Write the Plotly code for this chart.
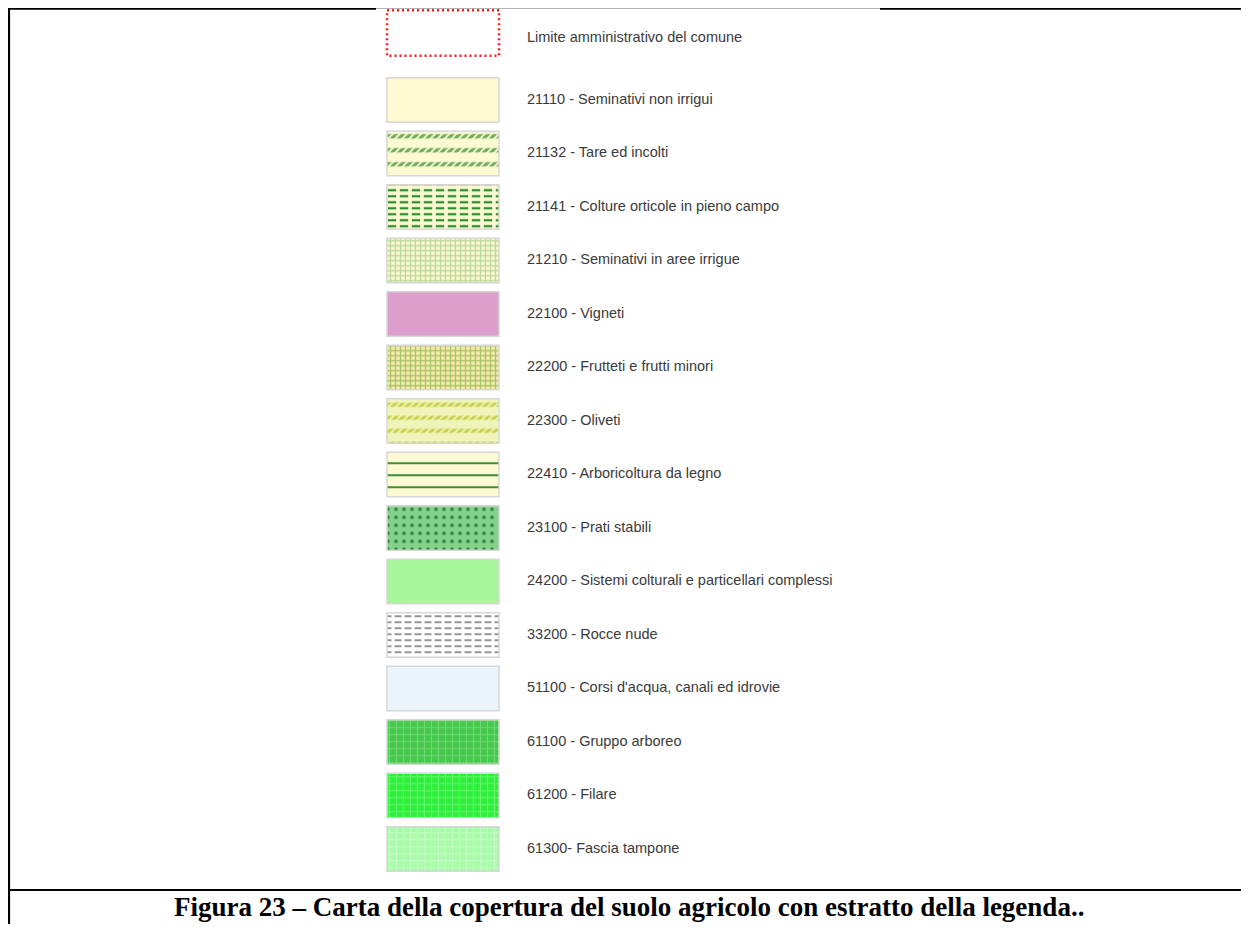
import plotly.graph_objects as go

# ---------------- data ----------------
boundary_label = "Limite amministrativo del comune"

codes = ["21110", "21132", "21141", "21210", "22100", "22200", "22300", "22410",
         "23100", "24200", "33200", "51100", "61100", "61200", "61300"]
names = ["Seminativi non irrigui", "Tare ed incolti", "Colture orticole in pieno campo",
         "Seminativi in aree irrigue", "Vigneti", "Frutteti e frutti minori", "Oliveti",
         "Arboricoltura da legno", "Prati stabili", "Sistemi colturali e particellari complessi",
         "Rocce nude", "Corsi d'acqua, canali ed idrovie", "Gruppo arboreo", "Filare",
         "Fascia tampone"]
separators = [" - "] * 14 + ["- "]
labels = [c + s + n for c, s, n in zip(codes, separators, names)]

caption = "Figura 23 – Carta della copertura del suolo agricolo con estratto della legenda.."

# ---------------- styles ----------------
fill_colors = ["#FDF9D3", "#FDF9D2", "#FDF9D2", "#FDF9D2", "#DD9DCD", "#F8EBB0", "#EEF4BA",
               "#FDF9D2", "#84D18E", "#A8F59B", "#FFFFFF", "#EAF4FD", "#45C84B", "#2DF03B",
               "#A8FBA8"]
pat1_shape = ["", "-", "-", "+", "", "+", "-", "-", ".", "", "-", "", "+", "+", "+"]
pat1_color = ["#000000", "#6FAE5E", "#2E8E2E", "#BAD899", "#000000", "#A9C466", "#C9CF48",
              "#3A8F36", "#2F7E37", "#000000", "#8A8A8A", "#000000", "#72D874", "#66F46E",
              "#C6FCC6"]
pat1_size = [8, 14, 6, 5, 8, 5, 13, 12, 8, 8, 6, 8, 7, 7, 7]
pat1_solid = [0.3, 0.32, 0.38, 0.45, 0.3, 0.45, 0.32, 0.17, 0.16, 0.3, 0.3, 0.3, 0.3, 0.3, 0.3]

pat2_shape = ["", "/", "|", "", "", "", "/", "", "", "", "|", "", "", "", ""]
pat2_color = ["#000000", "#FDF9D2", "#FDF9D2", "#000000", "#000000", "#000000", "#EEF4BA",
              "#000000", "#000000", "#000000", "#FFFFFF", "#000000", "#000000", "#000000",
              "#000000"]
pat2_size = [8, 5, 12, 8, 8, 8, 5, 8, 8, 8, 10, 8, 8, 8, 8]
pat2_solid = [0.3, 0.35, 0.3, 0.3, 0.3, 0.3, 0.35, 0.3, 0.3, 0.3, 0.3, 0.3, 0.3, 0.3, 0.3]

# ---------------- layout constants (figure pixels) ----------------
W, H = 1241, 916
SWATCH_X0 = 379
SWATCH_W = 112
LABEL_X = 519
TEXT_FONT = dict(family="Liberation Sans, Arial, sans-serif", size=14.5, color="#3a3a3a")
BORDER = "#d6d6d6"


def px2x(px):
    return px / W


def px2y(py):
    return 1 - py / H


fig = go.Figure()

# boundary row (own axes)
fig.add_trace(go.Bar(
    y=[boundary_label], x=[SWATCH_W], base=SWATCH_X0, orientation="h", width=0.91,
    marker=dict(color="white", line=dict(width=0)), xaxis="x", yaxis="y2",
    hoverinfo="skip", showlegend=False))
fig.add_trace(go.Scatter(
    y=[boundary_label], x=[LABEL_X], text=[boundary_label], mode="text",
    textposition="middle right", textfont=TEXT_FONT, xaxis="x", yaxis="y3",
    hoverinfo="skip", showlegend=False, cliponaxis=False))

# swatches: one trace per category, base layer then texture/border layer
for i, lab in enumerate(labels):
    fig.add_trace(go.Bar(
        y=[lab], x=[SWATCH_W], base=SWATCH_X0, orientation="h", width=0.83,
        marker=dict(color=fill_colors[i], line=dict(width=0),
                    pattern=dict(shape=pat1_shape[i], fgcolor=pat1_color[i], fgopacity=1,
                                 size=pat1_size[i], solidity=pat1_solid[i],
                                 fillmode="overlay")),
        hoverinfo="skip", showlegend=False))
for i, lab in enumerate(labels):
    fig.add_trace(go.Bar(
        y=[lab], x=[SWATCH_W], base=SWATCH_X0, orientation="h", width=0.83,
        marker=dict(color="rgba(0,0,0,0)", line=dict(width=1.5, color=BORDER),
                    pattern=dict(shape=pat2_shape[i], fgcolor=pat2_color[i], fgopacity=1,
                                 size=pat2_size[i], solidity=pat2_solid[i],
                                 fillmode="overlay")),
        hoverinfo="skip", showlegend=False))

# labels
fig.add_trace(go.Scatter(
    y=labels, x=[LABEL_X] * len(labels), text=labels, mode="text",
    textposition="middle right", textfont=TEXT_FONT,
    hoverinfo="skip", showlegend=False, cliponaxis=False))

shapes = []
# dotted red boundary swatch
shapes.append(dict(type="rect", xref="x", yref="y2", x0=SWATCH_X0, x1=SWATCH_X0 + SWATCH_W,
                   y0=-0.455, y1=0.455, line=dict(color="#ff1a1a", width=2.5, dash="2px,3px"),
                   fillcolor="rgba(0,0,0,0)"))
# frame
blk = dict(color="black", width=2.2)
shapes += [
    dict(type="line", xref="paper", yref="paper", x0=px2x(1), x1=px2x(1), y0=px2y(0), y1=0, line=blk),
    dict(type="line", xref="paper", yref="paper", x0=px2x(1238.5), x1=px2x(1238.5), y0=px2y(0), y1=0, line=blk),
    dict(type="line", xref="paper", yref="paper", x0=0, x1=px2x(368), y0=px2y(0.6), y1=px2y(0.6), line=blk),
    dict(type="line", xref="paper", yref="paper", x0=px2x(368), x1=px2x(872), y0=px2y(0.2), y1=px2y(0.2),
         line=dict(color="#9a9a9a", width=1.2)),
    dict(type="line", xref="paper", yref="paper", x0=px2x(872), x1=px2x(1239.5), y0=px2y(0.6), y1=px2y(0.6), line=blk),
    dict(type="line", xref="paper", yref="paper", x0=0, x1=px2x(1239.5), y0=px2y(882), y1=px2y(882), line=blk),
]

fig.update_layout(
    width=W, height=H, margin=dict(l=0, r=0, t=0, b=0, pad=0),
    paper_bgcolor="white", plot_bgcolor="white", barmode="overlay",
    xaxis=dict(range=[0, W], domain=[0, 1], visible=False, fixedrange=True),
    yaxis=dict(type="category", categoryorder="array", categoryarray=labels,
               range=[len(labels) - 0.5, -0.5], domain=[px2y(867.75), px2y(65.25)],
               visible=False, fixedrange=True),
    yaxis2=dict(type="category", range=[0.5, -0.5], domain=[px2y(50), 1],
                visible=False, fixedrange=True, anchor="x"),
    yaxis3=dict(type="category", range=[0.5, -0.5], domain=[px2y(55), px2y(5)],
                visible=False, fixedrange=True, anchor="x"),
    shapes=shapes,
    annotations=[dict(text="<b>" + caption + "</b>", xref="paper", yref="paper",
                      x=0.5, y=px2y(899), xanchor="center", yanchor="middle", showarrow=False,
                      font=dict(family="Liberation Serif, Times New Roman, serif", size=27,
                                color="black"))],
)

fig.write_html("out.html", config={"displayModeBar": False})
